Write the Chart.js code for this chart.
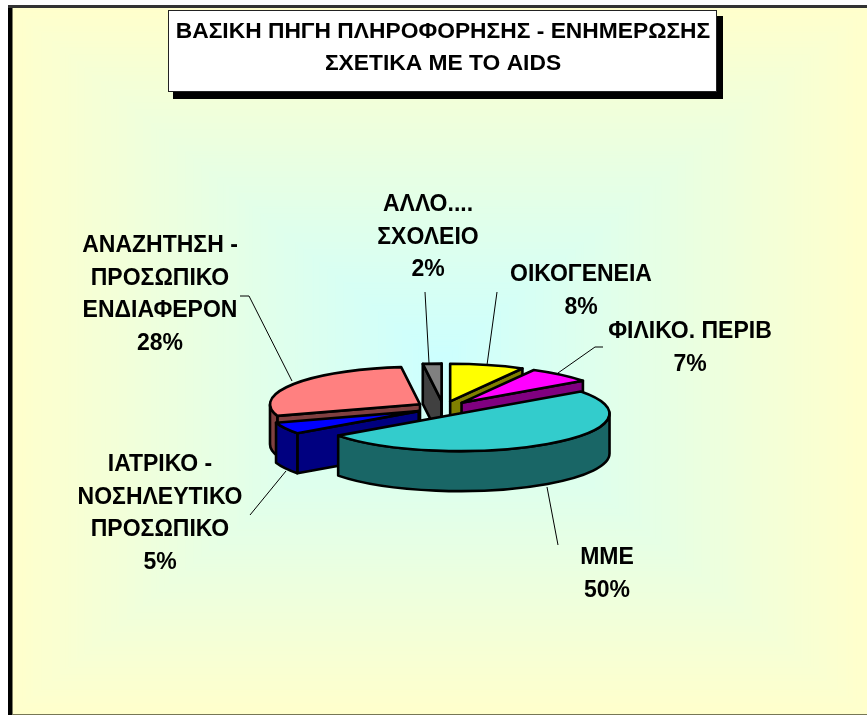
<!DOCTYPE html>
<html>
<head>
<meta charset="utf-8">
<style>
  html, body { margin: 0; padding: 0; background: #fff; overflow: hidden; }
  #wrap { width: 867px; height: 715px; position: relative; }
</style>
<script src="https://cdn.jsdelivr.net/npm/chart.js@4"></script>
</head>
<body>
<div id="wrap"><canvas id="myChart" width="867" height="715"></canvas></div>
<script>
// data
const titleLines = ['ΒΑΣΙΚΗ ΠΗΓΗ ΠΛΗΡΟΦΟΡΗΣΗΣ - ΕΝΗΜΕΡΩΣΗΣ', 'ΣΧΕΤΙΚΑ ΜΕ ΤΟ AIDS'];
const categories = ['ΟΙΚΟΓΕΝΕΙΑ', 'ΦΙΛΙΚΟ. ΠΕΡΙΒ', 'ΜΜΕ', 'ΙΑΤΡΙΚΟ - ΝΟΣΗΛΕΥΤΙΚΟ ΠΡΟΣΩΠΙΚΟ', 'ΑΝΑΖΗΤΗΣΗ - ΠΡΟΣΩΠΙΚΟ ΕΝΔΙΑΦΕΡΟΝ', 'ΑΛΛΟ.... ΣΧΟΛΕΙΟ'];
const values = [8, 7, 50, 5, 28, 2];
const topColors = ['#ffff00', '#ff00ff', '#33cccc', '#0000ff', '#ff8080', '#808080'];
const sideColors = ['#808000', '#800080', '#196666', '#000080', '#804040', '#404040'];

// label text broken the way the picture breaks it
const labelLines = [
  ['ΟΙΚΟΓΕΝΕΙΑ'],
  ['ΦΙΛΙΚΟ. ΠΕΡΙΒ'],
  ['ΜΜΕ'],
  ['ΙΑΤΡΙΚΟ -', 'ΝΟΣΗΛΕΥΤΙΚΟ', 'ΠΡΟΣΩΠΙΚΟ'],
  ['ΑΝΑΖΗΤΗΣΗ -', 'ΠΡΟΣΩΠΙΚΟ', 'ΕΝΔΙΑΦΕΡΟΝ'],
  ['ΑΛΛΟ....', 'ΣΧΟΛΕΙΟ']
];
const labelPos = [[581, 275], [690, 332], [607, 558], [160, 465], [160, 246], [428, 205]];
const leaders = [
  [[497, 292], [487, 365]],
  [[603, 347], [595, 347], [558, 373]],
  [[547, 487], [558, 545]],
  [[250, 515], [286, 471]],
  [[240, 296], [249, 296], [292, 381]],
  [[425, 292], [429, 363]]
];

const pieX = 443.3, pieY = 408, tilt = 0.25, depth = 40, explode = 27.6;
const drawOrder = [5, 0, 1, 4, 3, 2]; // back to front

function tracePoly(ctx, pts) {
  ctx.beginPath();
  pts.forEach((p, i) => i ? ctx.lineTo(p[0], p[1]) : ctx.moveTo(p[0], p[1]));
  ctx.closePath();
}

const pagePlugin = {
  id: 'page',
  beforeDraw(chart) {
    const ctx = chart.ctx;
    const l = 12, t = 8, r = 867, b = 714;
    ctx.save();
    // rectangular gradient, yellow frame to cyan centre
    const steps = 160, cx = (l + r) / 2, cy = (t + b) / 2;
    for (let i = 0; i < steps; i++) {
      const f = 1 - i / steps;
      const rr = Math.round(204 + 51 * f);
      const bb = Math.round(255 - 51 * f);
      ctx.fillStyle = `rgb(${rr},255,${bb})`;
      ctx.fillRect(cx - (cx - l) * f, cy - (cy - t) * f, (cx - l) * f * 2, (cy - t) * f * 2);
    }
    // frame
    ctx.fillStyle = '#000';
    ctx.fillRect(8, 5, 4.5, 710);
    ctx.fillStyle = '#333';
    ctx.fillRect(8, 5, 859, 3);
    ctx.fillStyle = '#777755';
    ctx.fillRect(12, 714, 855, 1);
    // title box
    ctx.fillStyle = '#000';
    ctx.fillRect(173, 16, 550, 83);
    ctx.fillStyle = '#fff';
    ctx.fillRect(168, 10, 549, 82);
    ctx.strokeStyle = '#222';
    ctx.lineWidth = 1;
    ctx.strokeRect(168.5, 10.5, 548, 81);
    ctx.fillStyle = '#000';
    ctx.font = 'bold 22.8px "Liberation Sans"';
    ctx.textAlign = 'center';
    ctx.textBaseline = 'middle';
    titleLines.forEach((s, i) => ctx.fillText(s, 443, 32 + i * 32));
    ctx.restore();
  },
  beforeDatasetsDraw(chart) {
    const ctx = chart.ctx;
    const arcs = chart.getDatasetMeta(0).data;
    ctx.save();
    ctx.lineWidth = 2.6;
    ctx.lineJoin = 'round';
    ctx.strokeStyle = '#000';
    drawOrder.forEach(i => {
      const arc = arcs[i];
      const a = arc.getProps(['x', 'y', 'startAngle', 'endAngle', 'outerRadius'], true);
      const mid = (a.startAngle + a.endAngle) / 2;
      const ax = pieX + Math.cos(mid) * explode;
      const ay = pieY + Math.sin(mid) * explode * tilt;
      const rx = a.outerRadius, ry = a.outerRadius * tilt;
      const edge = ang => [ax + Math.cos(ang) * rx, ay + Math.sin(ang) * ry];

      // cut faces, only those turned towards the viewer
      ctx.fillStyle = sideColors[i];
      const faces = [];
      if (Math.cos(a.startAngle) < 0) faces.push(a.startAngle);
      if (Math.cos(a.endAngle) > 0) faces.push(a.endAngle);
      faces.forEach(ang => {
        const p = edge(ang);
        tracePoly(ctx, [[ax, ay], p, [p[0], p[1] + depth], [ax, ay + depth]]);
        ctx.fill();
        ctx.stroke();
      });

      // outer wall, only the part facing the viewer
      const norm = 2 * Math.PI;
      for (let turn = -1; turn <= 1; turn++) {
        const from = Math.max(a.startAngle, turn * norm);
        const to = Math.min(a.endAngle, turn * norm + Math.PI);
        if (to <= from) continue;
        ctx.beginPath();
        ctx.ellipse(ax, ay, rx, ry, 0, from, to);
        ctx.ellipse(ax, ay + depth, rx, ry, 0, to, from, true);
        ctx.closePath();
        ctx.fill();
        ctx.stroke();
      }

      // top face: the library draws the arc, flattened by the tilt
      ctx.save();
      ctx.translate(ax, ay);
      ctx.scale(1, tilt);
      ctx.translate(-a.x, -a.y);
      arc.draw(ctx);
      ctx.restore();
      ctx.beginPath();
      ctx.moveTo(ax, ay);
      ctx.ellipse(ax, ay, rx, ry, 0, a.startAngle, a.endAngle);
      ctx.closePath();
      ctx.stroke();
    });
    ctx.restore();
    return false;
  },
  afterDraw(chart) {
    const ctx = chart.ctx;
    ctx.save();
    // leader lines
    ctx.strokeStyle = '#000';
    ctx.lineWidth = 1;
    leaders.forEach(pts => {
      ctx.beginPath();
      pts.forEach((p, i) => i ? ctx.lineTo(p[0], p[1]) : ctx.moveTo(p[0], p[1]));
      ctx.stroke();
    });
    // labels
    ctx.fillStyle = '#000';
    ctx.font = 'bold 23px "Liberation Sans"';
    ctx.textAlign = 'center';
    ctx.textBaseline = 'middle';
    labelLines.forEach((lines, i) => {
      const all = lines.concat(values[i] + '%');
      all.forEach((s, j) => ctx.fillText(s, labelPos[i][0], labelPos[i][1] + j * 32.5));
    });
    ctx.restore();
  }
};

const ctx = document.getElementById('myChart').getContext('2d');
const myChart = new Chart(ctx, {
  type: 'pie',
  data: {
    labels: categories,
    datasets: [{
      data: values,
      backgroundColor: topColors,
      borderWidth: 0,
      radius: 150
    }]
  },
  options: {
    responsive: false,
    animation: false,
    plugins: {
      legend: { display: false },
      tooltip: { enabled: false }
    }
  },
  plugins: [pagePlugin]
});
</script>
</body>
</html>
